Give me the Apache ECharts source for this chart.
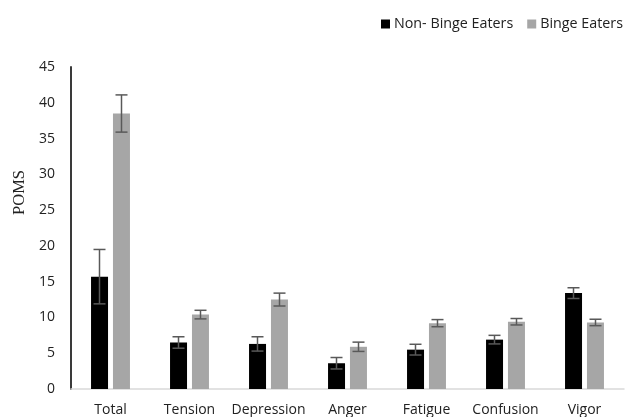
<!DOCTYPE html>
<html>
<head>
<meta charset="utf-8">
<script src="https://cdn.jsdelivr.net/npm/echarts@6/dist/echarts.min.js"></script>
<style>
  html, body { margin: 0; padding: 0; background: #fff; }
  #chart { width: 627px; height: 417px; }
</style>
</head>
<body>
<div id="chart"></div>
<script>
// POMS subscale means with standard errors
const categories = ['Total', 'Tension', 'Depression', 'Anger', 'Fatigue', 'Confusion', 'Vigor'];
const nonBingeMean = [15.7, 6.5, 6.3, 3.6, 5.5, 6.9, 13.4];
const nonBingeErr  = [3.8, 0.8, 1.0, 0.8, 0.75, 0.6, 0.75];
const bingeMean    = [38.5, 10.4, 12.5, 5.9, 9.2, 9.4, 9.3];
const bingeErr     = [2.6, 0.6, 0.9, 0.65, 0.5, 0.45, 0.45];
const yTicks = { min: 0, max: 45, interval: 5 };

const BAR_W = 17;
const GAP = 5;

function errorSeries(means, errs, offset) {
  const data = means.map((m, i) => [i, m - errs[i], m + errs[i]]);
  return {
    type: 'custom',
    z: 10,
    silent: true,
    data: data,
    renderItem: function (params, api) {
      const idx = api.value(0);
      const lo = api.coord([idx, api.value(1)]);
      const hi = api.coord([idx, api.value(2)]);
      const x = lo[0] + offset;
      const cap = 6;
      const style = { stroke: '#595959', lineWidth: 1.5 };
      return {
        type: 'group',
        children: [
          { type: 'line', shape: { x1: x, y1: hi[1], x2: x, y2: lo[1] }, style: style },
          { type: 'line', shape: { x1: x - cap, y1: hi[1], x2: x + cap, y2: hi[1] }, style: style },
          { type: 'line', shape: { x1: x - cap, y1: lo[1], x2: x + cap, y2: lo[1] }, style: style }
        ]
      };
    }
  };
}

const chart = echarts.init(document.getElementById('chart'), null, { renderer: 'canvas' });
const offset = (BAR_W + GAP) / 2;

chart.setOption({
  animation: false,
  textStyle: { fontFamily: 'Open Sans, Liberation Sans, sans-serif' },
  grid: { left: 71, right: 3, top: 67, bottom: 28, containLabel: false },
  legend: {
    top: 17,
    right: 4,
    padding: 0,
    itemWidth: 9,
    itemHeight: 9,
    itemGap: 14,
    icon: 'rect',
    textStyle: { fontSize: 14.3, color: '#222', fontFamily: 'Open Sans, sans-serif', padding: [0, 0, 0, -1] },
    data: ['Non- Binge Eaters', 'Binge Eaters']
  },
  xAxis: {
    type: 'category',
    data: categories,
    axisLine: { lineStyle: { color: '#d9d9d9', width: 1.5 } },
    axisTick: { show: false },
    axisLabel: { fontSize: 14, color: '#222', margin: 14, interval: 0, fontFamily: 'Open Sans, sans-serif' }
  },
  yAxis: {
    type: 'value',
    min: yTicks.min,
    max: yTicks.max,
    interval: yTicks.interval,
    axisLine: { show: true, lineStyle: { color: '#3a3a3a', width: 2 } },
    axisTick: { show: false },
    splitLine: { show: false },
    axisLabel: { fontSize: 14, color: '#222', margin: 16, fontFamily: 'Open Sans, sans-serif' }
  },
  graphic: [{
    type: 'text',
    left: 11,
    top: 170,
    rotation: Math.PI / 2,
    style: {
      text: 'POMS',
      font: '16.5px "Liberation Serif", "DejaVu Serif", serif',
      fill: '#222'
    }
  }],
  series: [
    {
      name: 'Non- Binge Eaters',
      type: 'bar',
      barWidth: BAR_W,
      barGap: (GAP / BAR_W * 100).toFixed(0) + '%',
      itemStyle: { color: '#000000' },
      data: nonBingeMean
    },
    {
      name: 'Binge Eaters',
      type: 'bar',
      barWidth: BAR_W,
      itemStyle: { color: '#a6a6a6' },
      data: bingeMean
    },
    errorSeries(nonBingeMean, nonBingeErr, -offset),
    errorSeries(bingeMean, bingeErr, offset)
  ]
});
</script>
</body>
</html>
